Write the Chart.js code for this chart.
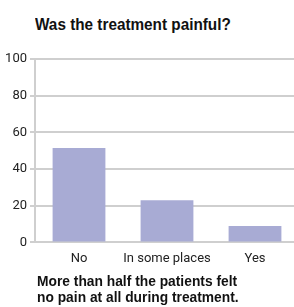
<!DOCTYPE html>
<html>
<head>
<meta charset="utf-8">
<script src="https://cdn.jsdelivr.net/npm/chart.js@4"></script>
<style>
  html, body { margin: 0; padding: 0; width: 294px; height: 307px; overflow: hidden; background: #fff; }
  .txt { position: absolute; font-family: "Liberation Sans", Arial, sans-serif; font-weight: bold; color: #111; transform-origin: 0 0; white-space: nowrap; }
  #title { left: 35px; top: 15px; font-size: 17px; transform: scaleX(0.9); }
  #note { left: 37px; top: 273px; font-size: 15px; line-height: 16px; transform: scaleX(0.92); }
  #wrap { position: absolute; left: 0; top: 0; width: 299px; height: 307px; }
</style>
</head>
<body>
<div id="title" class="txt">Was the treatment painful?</div>
<div id="wrap"><canvas id="painChart"></canvas></div>
<div id="note" class="txt">More than half the patients felt<br>no pain at all during treatment.</div>
<script>
// answers and share of patients (%)
const answers = ['No', 'In some places', 'Yes'];
const shares = [51.5, 23, 9];
const yTicks = [0, 20, 40, 60, 80, 100];

const ctx = document.getElementById('painChart').getContext('2d');
const tickFont = { family: 'Roboto, "Liberation Sans", sans-serif', size: 13 };

new Chart(ctx, {
  type: 'bar',
  data: {
    labels: answers,
    datasets: [{
      data: shares,
      backgroundColor: '#a8abd4',
      borderWidth: 0,
      barPercentage: 0.6,
      categoryPercentage: 1
    }]
  },
  options: {
    responsive: true,
    maintainAspectRatio: false,
    animation: false,
    layout: { padding: { top: 59, bottom: 39, left: 0, right: 0 } },
    scales: {
      x: {
        grid: { display: false },
        border: { display: false },
        ticks: { color: '#222', font: tickFont, padding: 1, minRotation: 0, maxRotation: 0, autoSkip: false }
      },
      y: {
        min: 0,
        max: 100,
        afterFit: function (scale) { scale.width = 35; },
        afterBuildTicks: function (scale) {
          scale.ticks = yTicks.map(v => ({ value: v }));
        },
        grid: { color: '#cfcfcf', lineWidth: 2, tickLength: 5 },
        border: { color: '#cfcfcf', width: 2 },
        ticks: { color: '#222', font: tickFont, padding: 3 }
      }
    },
    plugins: {
      legend: { display: false },
      tooltip: { enabled: false }
    }
  }
});
</script>
</body>
</html>
